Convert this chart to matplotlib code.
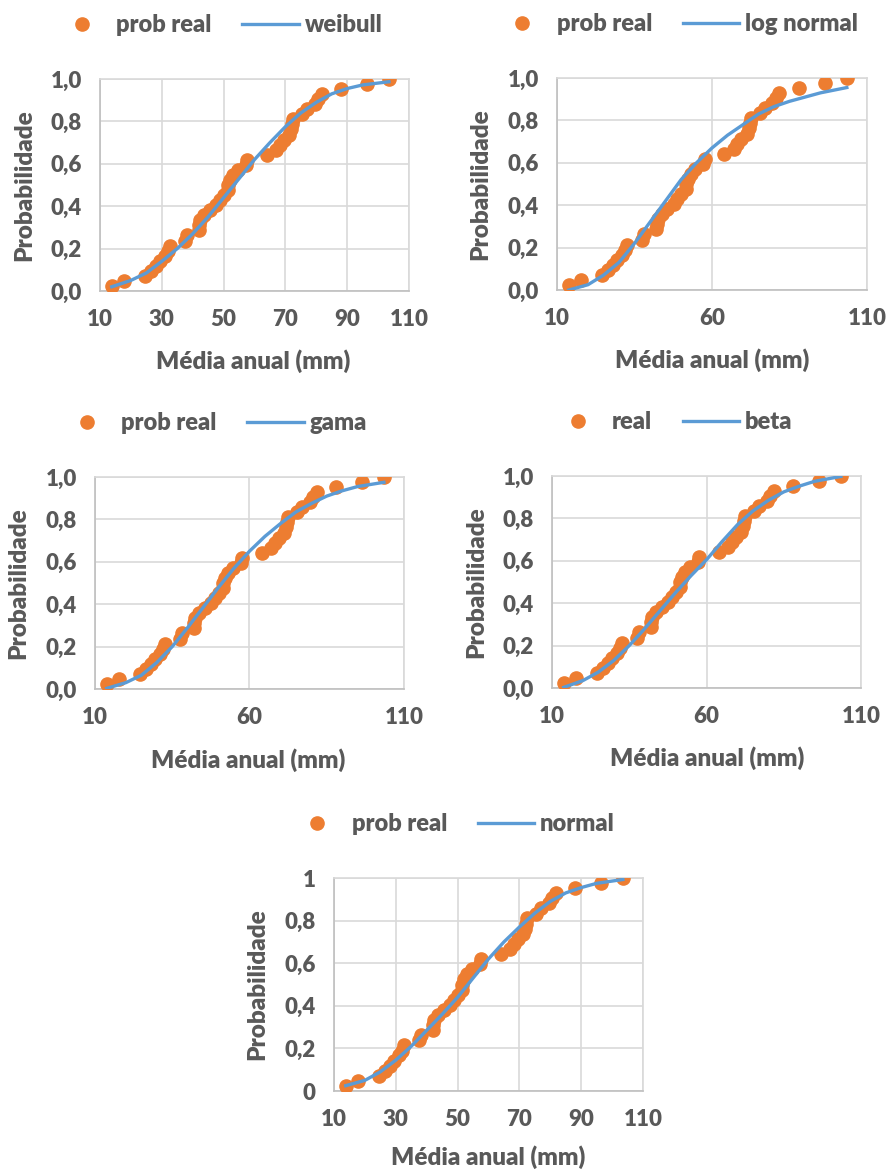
import matplotlib
matplotlib.use('Agg')
import matplotlib.pyplot as plt
from matplotlib.ticker import FuncFormatter

plt.rcParams['font.family'] = ['Lato', 'DejaVu Sans']
WEIGHT = 'heavy'
plt.rcParams['font.weight'] = WEIGHT

# observed points (same sample in every panel)
media_anual = [14.0, 17.8, 24.5, 26.5, 28.0, 29.5, 31.0, 32.0, 32.7, 37.5,
               38.0, 42.0, 42.2, 42.5, 43.8, 45.6, 47.7, 48.8, 50.0, 51.5,
               51.5, 52.2, 53.2, 54.5, 57.2, 57.6, 64.0, 67.0, 68.2, 69.5,
               71.2, 71.8, 72.2, 72.5, 75.5, 77.0, 79.5, 80.6, 81.7, 88.0,
               96.5, 103.5]
prob_real = [0.024, 0.048, 0.071, 0.095, 0.119, 0.143, 0.167, 0.190, 0.214, 0.238,
             0.262, 0.286, 0.310, 0.333, 0.357, 0.381, 0.405, 0.429, 0.452, 0.476,
             0.500, 0.524, 0.548, 0.571, 0.595, 0.619, 0.643, 0.667, 0.690, 0.714,
             0.738, 0.762, 0.786, 0.810, 0.833, 0.857, 0.881, 0.905, 0.929, 0.952,
             0.976, 1.000]

# fitted curves
curve_x = [13.8, 20, 25, 30, 35, 40, 45, 50, 55, 60, 65, 70, 75, 80, 85, 90, 95, 103.5]
weibull = [0.02, 0.05, 0.085, 0.14, 0.20, 0.27, 0.35, 0.44, 0.53, 0.62,
           0.70, 0.775, 0.84, 0.89, 0.93, 0.955, 0.972, 0.987]
log_normal = [0.0, 0.025, 0.07, 0.13, 0.22, 0.32, 0.42, 0.52, 0.60, 0.67,
              0.73, 0.78, 0.83, 0.865, 0.89, 0.91, 0.93, 0.955]
gama = [0.003, 0.03, 0.065, 0.125, 0.20, 0.29, 0.385, 0.48, 0.57, 0.65,
        0.72, 0.78, 0.835, 0.875, 0.91, 0.935, 0.955, 0.975]
beta = [0.003, 0.035, 0.075, 0.13, 0.20, 0.28, 0.365, 0.45, 0.53, 0.605,
        0.69, 0.77, 0.835, 0.885, 0.925, 0.952, 0.975, 0.998]
normal = [0.025, 0.05, 0.09, 0.145, 0.21, 0.285, 0.36, 0.44, 0.53, 0.62,
          0.70, 0.77, 0.835, 0.89, 0.93, 0.955, 0.975, 0.993]

xticks_fine = [10, 30, 50, 70, 90, 110]
xticks_coarse = [10, 60, 110]
yticks = [0, 0.2, 0.4, 0.6, 0.8, 1.0]

ORANGE = '#ED7D31'
BLUE = '#5B9BD5'
GRID = '#D9D9D9'
TEXT = '#595959'
W, H = 886, 1171
FS_TICK = 16
FS_LEG = 17
FS_LAB = 17.5

fig = plt.figure(figsize=(W/100, H/100), dpi=100)


def fx(px):
    return px / W


def fy(py):
    return 1 - py / H


def panel(rect, curve, pt_label, curve_label, xticks, leg_c, xlab_c, ylab_c, short_y=False):
    l, r, t, b = rect
    ax = fig.add_axes([fx(l), fy(b), fx(r - l), (b - t) / H])
    ax.plot(media_anual, prob_real, ls='None', marker='o', ms=9.5,
            color=ORANGE, label=pt_label, zorder=3)
    ax.plot(curve_x, curve, color=BLUE, lw=2.4, label=curve_label, zorder=4)
    ax.set_xlim(10, 110)
    ax.set_ylim(0, 1)
    ax.set_xticks(xticks)
    ax.set_yticks(yticks)
    if short_y:
        ax.yaxis.set_major_formatter(FuncFormatter(
            lambda v, p: '%d' % v if v in (0, 1) else ('%.1f' % v).replace('.', ',')))
    else:
        ax.yaxis.set_major_formatter(FuncFormatter(lambda v, p: ('%.1f' % v).replace('.', ',')))
    ax.grid(True, color=GRID, lw=1.2)
    ax.set_axisbelow(True)
    for s in ax.spines.values():
        s.set_color(GRID)
        s.set_linewidth(1.2)
    ax.spines['left'].set_color('#BFBFBF')
    ax.spines['bottom'].set_color('#BFBFBF')
    ax.tick_params(length=0, labelsize=FS_TICK, labelcolor=TEXT)
    ax.tick_params(axis='x', pad=13)
    ax.tick_params(axis='y', pad=13)
    for lab in ax.get_xticklabels() + ax.get_yticklabels():
        lab.set_fontweight(WEIGHT)
    ax.legend(loc='center', bbox_to_anchor=(fx(leg_c[0]), fy(leg_c[1])),
              bbox_transform=fig.transFigure, ncol=2, frameon=False,
              prop={'size': FS_LEG, 'weight': WEIGHT}, handlelength=2.4,
              handletextpad=0.25, columnspacing=1.3, labelcolor=TEXT, borderpad=0)
    fig.text(fx(xlab_c[0]), fy(xlab_c[1]), 'Média anual (mm)', ha='center', va='center',
             fontsize=FS_LAB, color=TEXT, fontweight=WEIGHT)
    fig.text(fx(ylab_c[0]), fy(ylab_c[1]), 'Probabilidade', ha='center', va='center',
             rotation=90, fontsize=FS_LAB, color=TEXT, fontweight=WEIGHT)
    return ax


panel((100, 409, 79, 291), weibull, 'prob real', 'weibull', xticks_fine,
      (218, 25), (253, 361), (24, 185))
panel((557, 867, 78, 290), log_normal, 'prob real', 'log normal', xticks_coarse,
      (676, 24), (712, 360), (480, 184))
panel((95, 404, 477, 689), gama, 'prob real', 'gama', xticks_coarse,
      (213, 423), (248, 760), (18, 583))
panel((552, 861, 476, 688), beta, 'real', 'beta', xticks_coarse,
      (671, 422), (707, 758), (476, 582))
panel((334, 643, 878, 1091), normal, 'prob real', 'normal', xticks_fine,
      (452, 824), (488, 1157), (257, 984), short_y=True)

fig.savefig('out.png', dpi=100, facecolor='white')
